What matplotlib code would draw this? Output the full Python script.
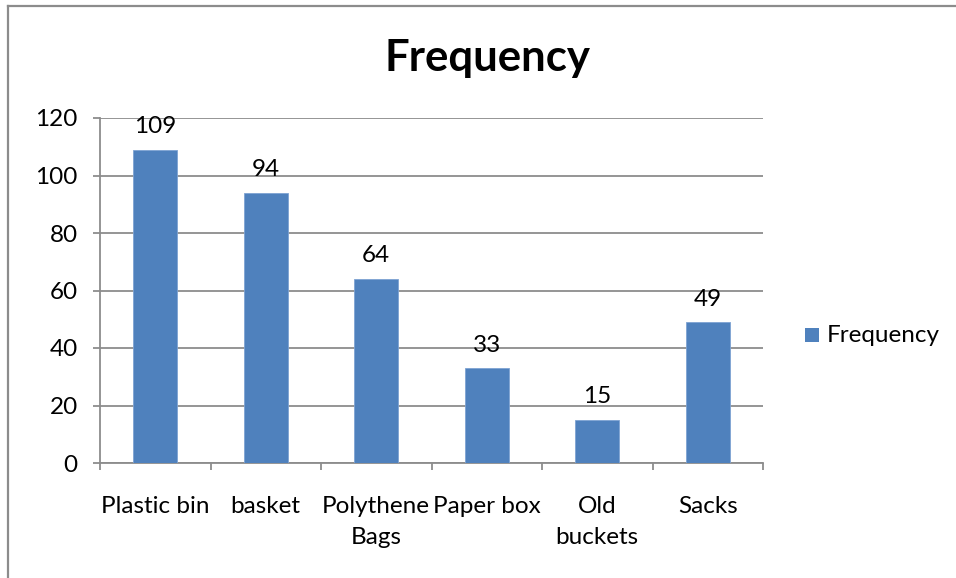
import matplotlib
matplotlib.use("Agg")
import matplotlib.pyplot as plt
from matplotlib.patches import Rectangle
from matplotlib.lines import Line2D

categories = ["Plastic bin", "basket", "Polythene\nBags", "Paper box", "Old\nbuckets", "Sacks"]
frequency = [109, 94, 64, 33, 15, 49]
y_ticks = [0, 20, 40, 60, 80, 100, 120]

BAR = "#4f81bd"
GRID = "#8c8c8c"
FONT = "Lato"
FS = 17.5

W, H = 956, 578
fig = plt.figure(figsize=(W / 100, H / 100), dpi=100)

# chart border
fig.add_artist(Line2D([8 / W, 8 / W], [0, 1 - 6 / H], transform=fig.transFigure, color=GRID, lw=1.6))
fig.add_artist(Line2D([8 / W, 1], [1 - 6 / H, 1 - 6 / H], transform=fig.transFigure, color=GRID, lw=1.6))

ax = fig.add_axes([100 / W, 115 / H, 663 / W, 345 / H])
x = list(range(len(categories)))
bars = ax.bar(x, frequency, width=0.4, color=BAR, edgecolor="#7ea3d3", linewidth=0.6, zorder=3)

ax.set_xlim(-0.5, len(categories) - 0.5)
ax.set_ylim(0, 120)
ax.set_yticks(y_ticks)
ax.set_yticklabels([str(v) for v in y_ticks], fontfamily=FONT, fontsize=FS)
ax.yaxis.grid(True, color=GRID, lw=1.3, zorder=0)
ax.set_axisbelow(True)

ax.set_xticks([i + 0.5 for i in [-1] + x])
ax.set_xticklabels([])
for i, c in enumerate(categories):
    ax.text(i, -11.5, c, ha="center", va="top", fontfamily=FONT, fontsize=FS, linespacing=1.6)

for s in ["top", "right"]:
    ax.spines[s].set_visible(False)
for s in ["left", "bottom"]:
    ax.spines[s].set_color(GRID)
    ax.spines[s].set_linewidth(1.3)
ax.tick_params(axis="both", direction="out", length=5, width=1.3, color=GRID)
ax.tick_params(axis="y", pad=11)

for b, v in zip(bars, frequency):
    ax.annotate(str(v), (b.get_x() + b.get_width() / 2, v), xytext=(0, 9),
                textcoords="offset points", ha="center", va="bottom",
                fontfamily=FONT, fontsize=FS)

fig.text(487 / W, 1 - 58 / H, "Frequency", ha="center", va="center",
         fontfamily=FONT, fontsize=31.5, fontweight="bold")

# legend
fig.add_artist(Rectangle((805 / W, 1 - 342 / H), 14 / W, 14 / H, transform=fig.transFigure,
                         facecolor=BAR, edgecolor="none"))
fig.text(827 / W, 1 - 336 / H, "Frequency", ha="left", va="center", fontfamily=FONT, fontsize=FS)

fig.savefig("out.png", dpi=100)
